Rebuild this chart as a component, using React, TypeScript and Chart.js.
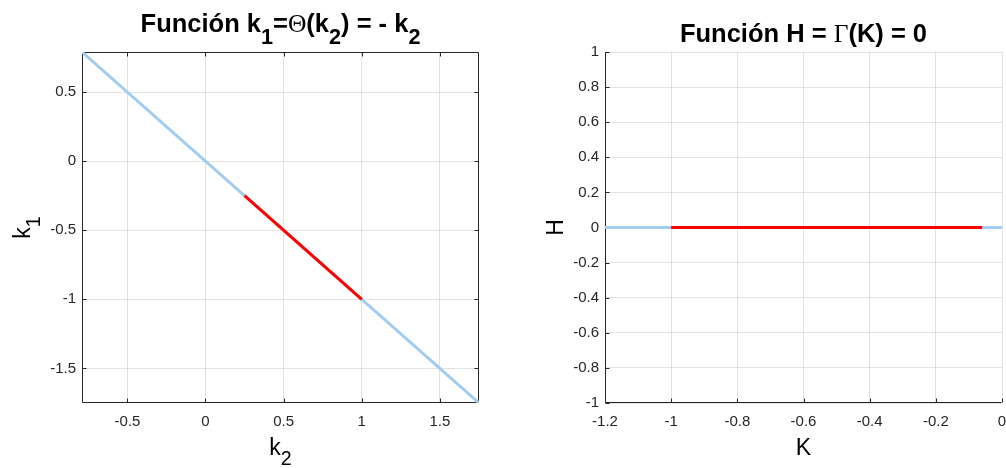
import React, { useEffect, useRef } from 'react';
import { Chart, registerables } from 'chart.js';

Chart.register(...registerables);

// ---- Left subplot data: k1 = -k2 ----
const leftBlueK2 = [-0.79, 1.75];
const leftBlueK1 = [0.79, -1.75];
const leftRedK2 = [0.25, 1];
const leftRedK1 = [-0.25, -1];
const leftXRange = [-0.79, 1.75];
const leftYRange = [-1.75, 0.79];
const leftXTicks = [-0.5, 0, 0.5, 1, 1.5];
const leftYTicks = [-1.5, -1, -0.5, 0, 0.5];

// ---- Right subplot data: H = 0 ----
const rightBlueK = [-1.2, 0];
const rightBlueH = [0, 0];
const rightRedK = [-1, -0.06];
const rightRedH = [0, 0];
const rightXRange = [-1.2, 0];
const rightYRange = [-1, 1];
const rightXTicks = [-1.2, -1, -0.8, -0.6, -0.4, -0.2, 0];
const rightYTicks = [-1, -0.8, -0.6, -0.4, -0.2, 0, 0.2, 0.4, 0.6, 0.8, 1];

const BLUE = '#a3cdf0';
const RED = '#ff0000';
const AXIS = '#262626';
const GRID = 'rgba(38,38,38,0.13)';
const SANS = '"Liberation Sans", Arial, Helvetica, sans-serif';
const SERIF = '"Liberation Serif", "Times New Roman", serif';

type Seg = { t: string; sub?: boolean; serif?: boolean };

const leftTitle: Seg[] = [
  { t: 'Función k' }, { t: '1', sub: true }, { t: '=' }, { t: 'Θ', serif: true },
  { t: '(k' }, { t: '2', sub: true }, { t: ') = - k' }, { t: '2', sub: true },
];
const rightTitle: Seg[] = [
  { t: 'Función H = ' }, { t: 'Γ', serif: true }, { t: '(K) = 0' },
];
const leftXLabel: Seg[] = [{ t: 'k' }, { t: '2', sub: true }];
const leftYLabel: Seg[] = [{ t: 'k' }, { t: '1', sub: true }];
const rightXLabel: Seg[] = [{ t: 'K' }];
const rightYLabel: Seg[] = [{ t: 'H' }];

const toPts = (xs: number[], ys: number[]) => xs.map((x, i) => ({ x, y: ys[i] }));
const fmt = (v: number) => String(Number(Number(v).toFixed(2)));

function segFont(s: Seg, size: number, bold: boolean) {
  const sz = s.sub ? size * 0.85 : size;
  const w = bold && !s.serif ? 'bold ' : '';
  return `${w}${sz}px ${s.serif ? SERIF : SANS}`;
}

function drawRich(ctx: CanvasRenderingContext2D, segs: Seg[], cx: number, cy: number,
  size: number, bold: boolean, rotate: boolean, subShift: number) {
  ctx.save();
  ctx.translate(cx, cy);
  if (rotate) ctx.rotate(-Math.PI / 2);
  ctx.fillStyle = '#000';
  ctx.textBaseline = 'alphabetic';
  ctx.textAlign = 'left';
  let total = 0;
  const widths = segs.map((s) => {
    ctx.font = segFont(s, size, bold);
    const w = ctx.measureText(s.t).width;
    total += w;
    return w;
  });
  let x = -total / 2;
  segs.forEach((s, i) => {
    ctx.font = segFont(s, size, bold);
    ctx.fillText(s.t, x, s.sub ? subShift : 0);
    x += widths[i];
  });
  ctx.restore();
}

const decor = {
  id: 'decor',
  beforeDatasetsDraw(chart: any, _a: any, o: any) {
    const { ctx, chartArea: ca, scales } = chart;
    ctx.save();
    ctx.strokeStyle = AXIS;
    ctx.lineWidth = 1;
    const L = Math.round(ca.left) + 0.5, R = Math.round(ca.right) - 0.5;
    const T = Math.round(ca.top) + 0.5, B = Math.round(ca.bottom) - 0.5;
    ctx.beginPath();
    if (o.box) {
      ctx.rect(L, T, R - L, B - T);
    } else {
      ctx.moveTo(L, T); ctx.lineTo(L, B); ctx.lineTo(R, B);
    }
    const tl = 4;
    for (const v of o.xTicks) {
      const px = Math.round(scales.x.getPixelForValue(v)) + 0.5;
      ctx.moveTo(px, B); ctx.lineTo(px, B - tl);
      if (o.box) { ctx.moveTo(px, T); ctx.lineTo(px, T + tl); }
    }
    for (const v of o.yTicks) {
      const py = Math.round(scales.y.getPixelForValue(v)) + 0.5;
      ctx.moveTo(L, py); ctx.lineTo(L + tl, py);
      if (o.box) { ctx.moveTo(R, py); ctx.lineTo(R - tl, py); }
    }
    ctx.stroke();
    ctx.restore();
  },
  afterDraw(chart: any, _a: any, o: any) {
    const { ctx, chartArea: ca } = chart;
    const cx = (ca.left + ca.right) / 2;
    const cy = (ca.top + ca.bottom) / 2;
    drawRich(ctx, o.title, cx, o.titleBase, 25.5, true, false, 11.5);
    drawRich(ctx, o.xLabel, cx, o.xLabelBase, 23, false, false, 10);
    drawRich(ctx, o.yLabel, o.yLabelBase, cy, 23, false, true, 10);
  },
};

function makeConfig(p: {
  blue: { x: number; y: number }[]; red: { x: number; y: number }[];
  xRange: number[]; yRange: number[]; xTicks: number[]; yTicks: number[];
  yWidth: number; padRight: number; box: boolean;
  title: Seg[]; titleBase: number; xLabel: Seg[]; xLabelBase: number;
  yLabel: Seg[]; yLabelBase: number;
}): any {
  const tickFont = { family: SANS, size: 15 };
  return {
    type: 'scatter',
    data: {
      datasets: [
        { data: p.red, showLine: true, borderColor: RED, borderWidth: 3, pointRadius: 0, fill: false },
        { data: p.blue, showLine: true, borderColor: BLUE, borderWidth: 3, pointRadius: 0, fill: false },
      ],
    },
    options: {
      animation: false,
      responsive: false,
      events: [],
      layout: { padding: { top: 52, right: p.padRight, bottom: 0, left: 0 } },
      plugins: {
        legend: { display: false },
        tooltip: { enabled: false },
        title: { display: false },
        decor: {
          box: p.box, xTicks: p.xTicks, yTicks: p.yTicks,
          title: p.title, titleBase: p.titleBase,
          xLabel: p.xLabel, xLabelBase: p.xLabelBase,
          yLabel: p.yLabel, yLabelBase: p.yLabelBase,
        },
      },
      scales: {
        x: {
          type: 'linear',
          min: p.xRange[0], max: p.xRange[1],
          afterBuildTicks: (s: any) => { s.ticks = p.xTicks.map((v) => ({ value: v })); },
          afterFit: (s: any) => { s.height = 65; s.paddingLeft = 0; s.paddingRight = 0; },
          grid: { color: GRID, lineWidth: 1, drawTicks: false },
          border: { display: false },
          ticks: { color: AXIS, font: tickFont, padding: 10, maxRotation: 0, autoSkip: false, callback: (v: number) => fmt(v) },
        },
        y: {
          type: 'linear',
          min: p.yRange[0], max: p.yRange[1],
          afterBuildTicks: (s: any) => { s.ticks = p.yTicks.map((v) => ({ value: v })); },
          afterFit: (s: any) => { s.width = p.yWidth; s.paddingTop = 0; s.paddingBottom = 0; },
          grid: { color: GRID, lineWidth: 1, drawTicks: false },
          border: { display: false },
          ticks: { color: AXIS, font: tickFont, padding: 6, autoSkip: false, callback: (v: number) => fmt(v) },
        },
      },
    },
    plugins: [decor],
  };
}

function Panel(props: { width: number; left: number; config: any }) {
  const ref = useRef<HTMLCanvasElement | null>(null);
  useEffect(() => {
    if (!ref.current) return;
    const chart = new Chart(ref.current, props.config);
    return () => chart.destroy();
  }, []);
  return (
    <canvas
      ref={ref}
      width={props.width}
      height={468}
      style={{ position: 'absolute', left: props.left, top: 0, width: props.width, height: 468 }}
    />
  );
}

export default function App() {
  const leftCfg = makeConfig({
    blue: toPts(leftBlueK2, leftBlueK1), red: toPts(leftRedK2, leftRedK1),
    xRange: leftXRange, yRange: leftYRange, xTicks: leftXTicks, yTicks: leftYTicks,
    yWidth: 82, padRight: 21, box: true,
    title: leftTitle, titleBase: 32, xLabel: leftXLabel, xLabelBase: 455,
    yLabel: leftYLabel, yLabelBase: 29.5,
  });
  const rightCfg = makeConfig({
    blue: toPts(rightBlueK, rightBlueH), red: toPts(rightRedK, rightRedH),
    xRange: rightXRange, yRange: rightYRange, xTicks: rightXTicks, yTicks: rightYTicks,
    yWidth: 105, padRight: 4, box: false,
    title: rightTitle, titleBase: 42, xLabel: rightXLabel, xLabelBase: 455,
    yLabel: rightYLabel, yLabelBase: 63,
  });
  return (
    <div style={{ position: 'fixed', left: 0, top: 0, width: 1006, height: 468, background: '#fff', overflow: 'hidden' }}>
      <Panel width={500} left={0} config={leftCfg} />
      <Panel width={506} left={500} config={rightCfg} />
    </div>
  );
}
